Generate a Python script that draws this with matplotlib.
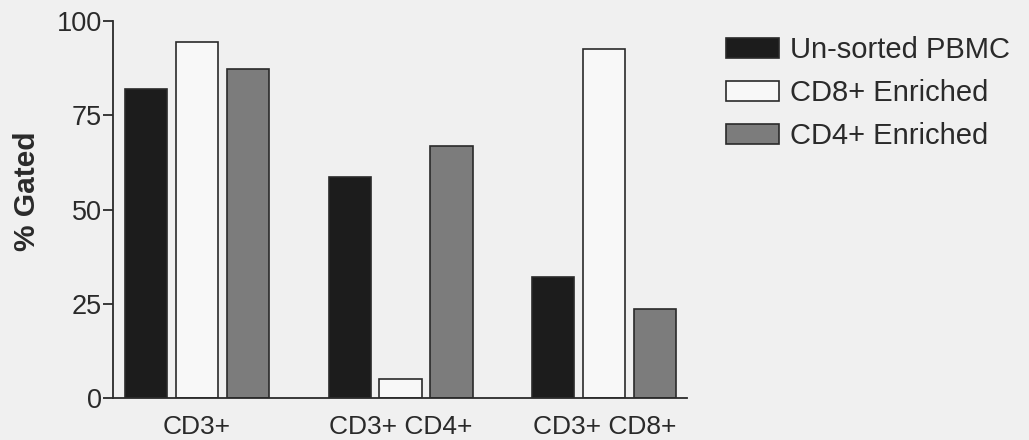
import matplotlib.pyplot as plt
import numpy as np

plt.rcParams['font.family'] = ['Liberation Sans', 'DejaVu Sans']

# data
groups = ['CD3+', 'CD3+ CD4+', 'CD3+ CD8+']
series = ['Un-sorted PBMC', 'CD8+ Enriched', 'CD4+ Enriched']
unsorted = [82, 58.7, 32.2]
cd8_enriched = [94.5, 5, 92.5]
cd4_enriched = [87.2, 66.8, 23.6]
yticks = [0, 25, 50, 75, 100]

colors = ['#1c1c1c', '#f8f8f8', '#7c7c7c']
bg = '#f0f0f0'
ink = '#2a2a2a'

fig = plt.figure(figsize=(10.29, 4.4), dpi=100, facecolor=bg)
ax = fig.add_axes([0.1098, 0.0955, 0.558, 0.8565])
ax.set_facecolor(bg)

centers = np.arange(len(groups)) * 4.0
width = 0.83
handles = []
for i, (vals, name) in enumerate(zip([unsorted, cd8_enriched, cd4_enriched], series)):
    b = ax.bar(centers + (i - 1), vals, width, color=colors[i], edgecolor=ink,
               linewidth=1.2, label=name)
    handles.append(b)

ax.set_xlim(centers[0] - 1.65, centers[-1] + 1.63)
ax.set_ylim(0, 100)
ax.set_yticks(yticks)
ax.set_xticks(centers)
ax.set_xticklabels(groups)

for s in ['top', 'right']:
    ax.spines[s].set_visible(False)
for s in ['left', 'bottom']:
    ax.spines[s].set_color(ink)
    ax.spines[s].set_linewidth(1.3)

ax.tick_params(axis='y', direction='out', length=7, width=1.3, colors=ink,
               labelsize=19.5, pad=1)
ax.tick_params(axis='x', length=0, labelsize=19, colors=ink, pad=12)

ax.set_ylabel('% Gated', fontsize=21.5, fontweight='bold', color=ink)
ax.yaxis.set_label_coords(-0.125, 0.549)

leg = fig.legend(handles=handles, loc='upper left', bbox_to_anchor=(0.706, 0.918),
                 frameon=False, fontsize=21, handlelength=1.8, handleheight=0.65,
                 handletextpad=0.38, labelspacing=0.52, borderpad=0, borderaxespad=0)
for t in leg.get_texts():
    t.set_color(ink)

fig.savefig('out.png', dpi=100, facecolor=bg)
